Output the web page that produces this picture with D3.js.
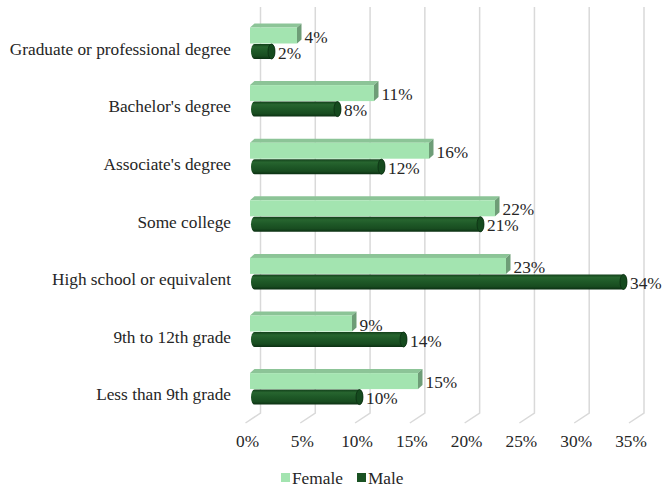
<!DOCTYPE html>
<html>
<head>
<meta charset="utf-8">
<script src="https://cdn.jsdelivr.net/npm/d3@7"></script>
<style>
  html, body { margin: 0; padding: 0; background: #fff; }
  svg { display: block; }
</style>
</head>
<body>
<svg id="chart" width="663" height="491"></svg>
<script>
// Educational attainment by sex (share of each group)
const categories = [
  "Graduate or professional degree",
  "Bachelor's degree",
  "Associate's degree",
  "Some college",
  "High school or equivalent",
  "9th to 12th grade",
  "Less than 9th grade"
];
const femaleValues = [4, 11, 16, 22, 23, 9, 15];
const maleValues   = [2, 8, 12, 21, 34, 14, 10];
const tickValues   = [0, 5, 10, 15, 20, 25, 30, 35];
const seriesNames  = ["Female", "Male"];

const FONT = "'Liberation Serif', 'Times New Roman', serif";
const FS = "17.3px";
const TEXT = "#262626";

const svg = d3.select("#chart")
  .attr("font-family", FONT);
const fmt = v => v + "%";

// 3D depth offset for the wall/floor and for bar tops
const wallDx = 15, wallDy = 10;
const barDx = 4.5, barDy = 4;

// Scales: back wall for the gridlines, bar plane for the bars
const xWall = d3.scaleLinear().domain([0, 35]).range([260.5, 644]);
const xBar  = d3.scaleLinear().domain([0, 35]).range([253, 638]);
const yBand = d3.scaleBand().domain(categories).range([19.5, 422.7]).paddingInner(0).paddingOuter(0);

const wallTop = 7, wallBottom = 413;

// Gridlines on the back wall plus their run across the floor
const grid = svg.append("g");
tickValues.forEach(t => {
  const gx = xWall(t);
  grid.append("path")
    .attr("d", `M${gx},${wallTop} L${gx},${wallBottom} L${gx - wallDx},${wallBottom + wallDy}`)
    .attr("fill", "none")
    .attr("stroke", "#d9d9d9")
    .attr("stroke-width", 1.5);
});

// Value axis labels along the front of the floor
const xAxisFront = d3.scaleLinear().domain([0, 35]).range([xWall(0) - 13.5, xWall(35) - 13.5]);
const axis = svg.append("g").attr("transform", "translate(0,441)")
  .call(d3.axisBottom(xAxisFront).tickValues(tickValues).tickFormat(fmt).tickSize(0).tickPadding(0));
axis.attr("font-family", FONT).attr("font-size", FS);
axis.select(".domain").remove();
axis.selectAll("text")
  .attr("dy", "0.35em")
  .attr("y", 0)
  .attr("fill", TEXT);

// Category labels
svg.append("g").selectAll("text")
  .data(categories)
  .join("text")
  .attr("x", 231)
  .attr("y", d => yBand(d) + yBand.bandwidth() / 2 + 0.5)
  .attr("dy", "0.35em")
  .attr("text-anchor", "end")
  .attr("font-size", FS)
  .attr("fill", TEXT)
  .text(d => d);

// Gradient for the cylindrical male bars
const defs = svg.append("defs");
const g = defs.append("linearGradient").attr("id", "maleGrad")
  .attr("x1", 0).attr("y1", 0).attr("x2", 0).attr("y2", 1);
[[0, "#123f1a"], [0.2, "#27652f"], [0.45, "#1f5a28"], [0.8, "#184c20"], [1, "#0b2f12"]]
  .forEach(([o, c]) => g.append("stop").attr("offset", o).attr("stop-color", c));

const femaleTopOffset = 8, femaleH = 16;
const maleTopOffset = 24.5, maleH = 15;

const bars = svg.append("g");
categories.forEach((cat, i) => {
  const y0 = yBand(cat);
  // Female: box with front, top and right faces
  const fy = y0 + femaleTopOffset;
  const fx0 = xBar(0) - 3, fx1 = xBar(femaleValues[i]);
  bars.append("path")
    .attr("d", `M${fx0},${fy} L${fx0 + barDx},${fy - barDy} L${fx1 + barDx},${fy - barDy} L${fx1},${fy} Z`)
    .attr("fill", "#8cc497");
  bars.append("path")
    .attr("d", `M${fx1},${fy} L${fx1 + barDx},${fy - barDy} L${fx1 + barDx},${fy + femaleH - barDy} L${fx1},${fy + femaleH} Z`)
    .attr("fill", "#6e9d77");
  bars.append("rect")
    .attr("x", fx0).attr("y", fy)
    .attr("width", fx1 - fx0).attr("height", femaleH)
    .attr("fill", "#a3e4b0");
  bars.append("text")
    .attr("x", fx1 + barDx + 3)
    .attr("y", fy + femaleH / 2 + 1)
    .attr("dy", "0.35em")
    .attr("font-size", FS)
    .attr("fill", TEXT)
    .text(fmt(femaleValues[i]));

  // Male: cylinder with rounded ends
  const my = y0 + maleTopOffset;
  const mx0 = xBar(0) - 2, mx1 = xBar(maleValues[i]);
  const r = 3.5;
  bars.append("rect")
    .attr("x", mx0).attr("y", my)
    .attr("width", mx1 - mx0).attr("height", maleH)
    .attr("rx", r).attr("ry", maleH / 2)
    .attr("fill", "url(#maleGrad)");
  bars.append("ellipse")
    .attr("cx", mx1 - r).attr("cy", my + maleH / 2)
    .attr("rx", r).attr("ry", maleH / 2)
    .attr("fill", "#154a1e")
    .attr("stroke", "#0b2f12").attr("stroke-width", 0.8);
  bars.append("text")
    .attr("x", mx1 + 3)
    .attr("y", my + maleH / 2 + 1)
    .attr("dy", "0.35em")
    .attr("font-size", FS)
    .attr("fill", TEXT)
    .text(fmt(maleValues[i]));
});

// Legend
const legendColors = ["#a3e4b0", "#1a5223"];
const legend = svg.append("g");
const legendX = [281, 357];
seriesNames.forEach((name, i) => {
  legend.append("rect")
    .attr("x", legendX[i]).attr("y", 473)
    .attr("width", 9).attr("height", 9)
    .attr("fill", legendColors[i]);
  legend.append("text")
    .attr("x", legendX[i] + 11).attr("y", 478)
    .attr("dy", "0.35em")
    .attr("font-size", FS)
    .attr("fill", TEXT)
    .text(name);
});
</script>
</body>
</html>
